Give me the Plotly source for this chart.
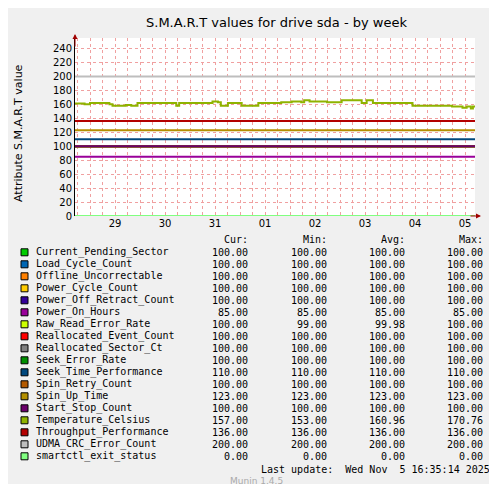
import plotly.graph_objects as go

names = ["Current_Pending_Sector","Load_Cycle_Count","Offline_Uncorrectable","Power_Cycle_Count",
         "Power_Off_Retract_Count","Power_On_Hours","Raw_Read_Error_Rate","Reallocated_Event_Count",
         "Reallocated_Sector_Ct","Seek_Error_Rate","Seek_Time_Performance","Spin_Retry_Count",
         "Spin_Up_Time","Start_Stop_Count","Temperature_Celsius","Throughput_Performance",
         "UDMA_CRC_Error_Count","smartctl_exit_status"]
colors = ["#00CC00","#0066B3","#FF8000","#FFCC00","#330099","#990099","#CCFF00","#FF0000",
          "#808080","#008F00","#00487D","#B35A00","#B38F00","#6B006B","#8FB300","#B30000",
          "#BEBEBE","#80FF80"]
cur = [100,100,100,100,100,85,100,100,100,100,110,100,123,100,157,136,200,0]
mins = [100,100,100,100,100,85,99,100,100,100,110,100,123,100,153,136,200,0]
avgs = [100,100,100,100,100,85,99.98,100,100,100,110,100,123,100,160.96,136,200,0]
maxs = [100,100,100,100,100,85,100,100,100,100,110,100,123,100,170.76,136,200,0]

temp_hours = [0,4.6,7.2,16.5,18,24.4,27,30,48.6,50,66,68.6,70,73.4,80,88,96,99,104,108.6,110,112.6,
              121,128,137.6,140,143,162,181,186,188,190,191,192]
temp_values = [161,160,162,160,158,159,158,162,158,162,164,163,158,162,158,162,162,163,164,163,166,164,
               163,166,162,166,162,158,157,155,157,154,157,157]

day_labels = ["29","30","31","01","02","03","04","05"]
day_hours = [19.2 + 24*i for i in range(8)]
total_hours = 192

fig = go.Figure()
for i, n in enumerate(names):
    if n == "Temperature_Celsius":
        xs, ys = temp_hours, temp_values
    else:
        xs, ys = [0, total_hours], [cur[i], cur[i]]
    fig.add_trace(go.Scatter(x=xs, y=ys, mode="lines", line=dict(color=colors[i], width=2, shape="hv"),
                             showlegend=False, hoverinfo="skip"))

W, H = 497, 484
L, R, T, B = 67, 467, 30, 208
def xp(px): return (px - L) / (R - L)
def yp(py): return (B - py) / (B - T)

ann = []
shapes = []
mono = dict(family="DejaVu Sans Mono", size=10, color="#000000")
for j, (lab, xr) in enumerate(zip(["Cur:", "Min:", "Avg:", "Max:"], [242, 321, 399, 477])):
    ann.append(dict(x=xp(xr), y=yp(232), xref="paper", yref="paper", text=lab, showarrow=False,
                    xanchor="right", yanchor="middle", font=mono))
for i, n in enumerate(names):
    yc = 244.3 + 12 * i
    shapes.append(dict(type="rect", xref="paper", yref="paper", x0=xp(13), x1=xp(20), y0=yp(yc - 3.5),
                       y1=yp(yc + 3.5), fillcolor=colors[i], line=dict(color="#000000", width=1)))
    ann.append(dict(x=xp(26), y=yp(yc), xref="paper", yref="paper", text=n, showarrow=False,
                    xanchor="left", yanchor="middle", font=mono))
    for v, xr in zip([cur[i], mins[i], avgs[i], maxs[i]], [242, 321, 399, 477]):
        ann.append(dict(x=xp(xr), y=yp(yc), xref="paper", yref="paper", text="%.2f" % v, showarrow=False,
                        xanchor="right", yanchor="middle", font=mono))
ann.append(dict(x=xp(484), y=yp(461), xref="paper", yref="paper", text="Last update:  Wed Nov  5 16:35:14 2025",
                showarrow=False, xanchor="right", yanchor="middle", font=mono))
ann.append(dict(x=xp(248), y=yp(473), xref="paper", yref="paper", text="Munin 1.4.5", showarrow=False,
                xanchor="center", yanchor="middle", font=dict(family="DejaVu Sans", size=9, color="#AAAAAA")))
ann.append(dict(x=xp(489), y=yp(60), xref="paper", yref="paper", text="RRDTOOL / TOBI OETIKER", showarrow=False,
                textangle=90, xanchor="center", yanchor="middle", font=dict(family="DejaVu Sans", size=8, color="#AAAAAA")))
ann.append(dict(x=xp(10), y=yp(125), xref="paper", yref="paper", text="Attribute S.M.A.R.T value", showarrow=False,
                textangle=-90, xanchor="center", yanchor="middle", font=dict(family="DejaVu Sans", size=11, color="#000000")))
ann.append(dict(x=xp(268), y=yp(14), xref="paper", yref="paper", text="S.M.A.R.T values for drive sda - by week",
                showarrow=False, xanchor="center", yanchor="middle", font=dict(family="DejaVu Sans", size=13, color="#000000")))
ann.append(dict(x=xp(L), y=yp(26), ax=0, ay=14, xref="paper", yref="paper",
                showarrow=True, arrowhead=2, arrowsize=1, arrowwidth=1, arrowcolor="#A00000", text=""))
ann.append(dict(x=xp(473), y=yp(B), ax=-12, ay=0, xref="paper", yref="paper",
                showarrow=True, arrowhead=2, arrowsize=1, arrowwidth=1, arrowcolor="#A00000", text=""))

fig.update_layout(
    width=W, height=H, margin=dict(l=L, r=W - R, t=T, b=H - B),
    paper_bgcolor="#F0F0F0", plot_bgcolor="#FFFFFF",
    annotations=ann, shapes=shapes,
    font=dict(family="DejaVu Sans", size=10, color="#000000"),
    xaxis=dict(range=[0, total_hours], tickvals=day_hours, ticktext=day_labels, showgrid=False,
               ticks="", zeroline=False, showline=False,
               minor=dict(tick0=1.2, dtick=6, showgrid=True, gridcolor="#F0A0A0", griddash="dot", gridwidth=1)),
    yaxis=dict(range=[0, 255], tickvals=list(range(0, 241, 20)), showgrid=True, gridcolor="#F0A0A0",
               griddash="dot", zeroline=False, showline=True, linecolor="#000000", ticks=""),
)
fig.write_html("out.html")
